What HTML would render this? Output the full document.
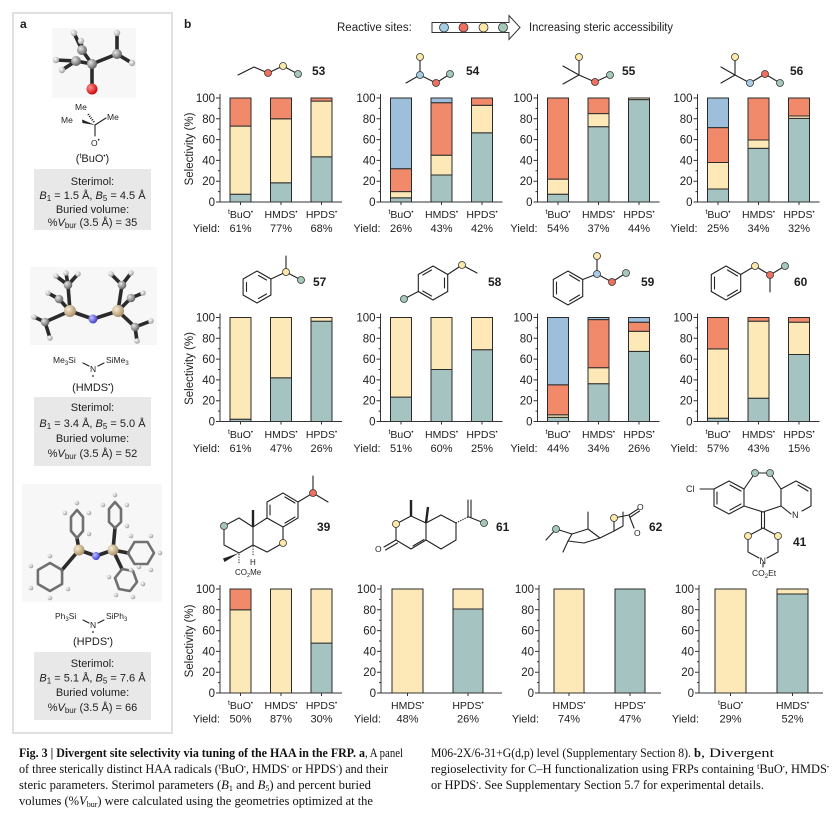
<!DOCTYPE html>
<html><head><meta charset="utf-8">
<style>
html,body{margin:0;padding:0;background:#fff;}
svg{display:block;}
text{font-family:"Liberation Sans",Arial,sans-serif;fill:#1e1e1e;}
.tk{font-size:11.5px;text-anchor:end}
.c{font-size:10.5px;text-anchor:middle}
.yv{font-size:11px;text-anchor:middle}
.yl{font-size:11px;text-anchor:end}
.num{font-size:12px;font-weight:bold}
.sel{font-size:11.5px;text-anchor:middle}
.st{font-size:11px;text-anchor:middle}
.ch{font-size:8.5px}
.cap{font-family:"Liberation Serif",serif;font-size:12.5px;fill:#111}
.capb{font-family:"Liberation Serif",serif;font-size:12.5px;font-weight:bold;fill:#111}
rect.t{fill:#a5c3c1;stroke:#2b2b2b;stroke-width:1}
rect.y{fill:#fde9b7;stroke:#2b2b2b;stroke-width:1}
rect.r{fill:#f08a6b;stroke:#2b2b2b;stroke-width:1}
rect.b{fill:#9ebfdc;stroke:#2b2b2b;stroke-width:1}
.ax{stroke:#333;stroke-width:1;fill:none}
.mol{stroke:#222;stroke-width:1.1;fill:none;stroke-linecap:round}
circle.ct{fill:#a5c9b8;stroke:#333;stroke-width:.8}
circle.cy{fill:#fde9a8;stroke:#333;stroke-width:.8}
circle.cr{fill:#f07060;stroke:#333;stroke-width:.8}
circle.cb{fill:#a6cde6;stroke:#333;stroke-width:.8}
.stk{stroke:#2b2b2b;stroke-width:3.6;stroke-linecap:round;fill:none}
.ring{stroke:#707070;stroke-width:2.6;stroke-linejoin:round;fill:none}
</style></head><body>
<svg width="836" height="814" viewBox="0 0 836 814" xmlns="http://www.w3.org/2000/svg">
<defs>
<radialGradient id="gH" cx="35%" cy="35%" r="70%"><stop offset="0" stop-color="#ffffff"/><stop offset="1" stop-color="#9a9a9a"/></radialGradient>
<radialGradient id="gC" cx="35%" cy="35%" r="70%"><stop offset="0" stop-color="#e6e6e6"/><stop offset="1" stop-color="#5a5a5a"/></radialGradient>
<radialGradient id="gO" cx="35%" cy="35%" r="70%"><stop offset="0" stop-color="#ff9090"/><stop offset="1" stop-color="#c80000"/></radialGradient>
<radialGradient id="gN" cx="35%" cy="35%" r="70%"><stop offset="0" stop-color="#c0c0ff"/><stop offset="1" stop-color="#3838c8"/></radialGradient>
<radialGradient id="gS" cx="35%" cy="35%" r="70%"><stop offset="0" stop-color="#f8ecd2"/><stop offset="1" stop-color="#a58d62"/></radialGradient>
<g id="ax"><path class="ax" d="M0,-108V0 M-4,0H0 M-4,-20.8H0 M-4,-41.6H0 M-4,-62.4H0 M-4,-83.2H0 M-4,-104H0 M-2,-10.4H0 M-2,-31.2H0 M-2,-52H0 M-2,-72.8H0 M-2,-93.6H0"/></g>
</defs>

<!-- Panel a -->
<rect x="13" y="13" width="159" height="720" fill="none" stroke="#d9d9d9" stroke-width="1.6"/>
<text x="20" y="28" style="font-size:12px;font-weight:bold">a</text>
<text x="184" y="28" style="font-size:12px;font-weight:bold">b</text>

<!-- tBuO 3D -->
<rect x="52" y="28" width="84" height="70" fill="#f7f7f7"/>
<path class="stk" d="M92,64L92,88 M92,64L76,61 M92,64L117,54 M92,64L82,50 M76,61L56,60 M76,61L62,70 M82,50L74,33 M82,50L81,41 M117,54L117,33 M117,54L132,63"/>
<circle cx="56" cy="60" r="3.2" fill="url(#gH)"/><circle cx="62" cy="70" r="3.2" fill="url(#gH)"/>
<circle cx="74" cy="33" r="3.2" fill="url(#gH)"/><circle cx="81" cy="41" r="3.2" fill="url(#gH)"/>
<circle cx="117" cy="33" r="3.2" fill="url(#gH)"/><circle cx="132" cy="63" r="3.2" fill="url(#gH)"/>
<circle cx="82" cy="50" r="5" fill="url(#gC)"/><circle cx="76" cy="61" r="5" fill="url(#gC)"/>
<circle cx="117" cy="54" r="5" fill="url(#gC)"/><circle cx="92" cy="64" r="5" fill="url(#gC)"/>
<circle cx="92" cy="89" r="5.5" fill="url(#gO)"/>
<!-- tBuO 2D -->
<path class="mol" d="M95,125L106,118 M95,125L95,136"/>
<polygon points="95,125 82,119.5 82.5,123" fill="#222"/>
<path d="M94,122L88,114" stroke="#222" stroke-width="2" stroke-dasharray="1,1.2"/>
<text class="ch" x="75" y="110">Me</text>
<text class="ch" x="61" y="123">Me</text>
<text class="ch" x="107" y="120">Me</text>
<text class="ch" x="91" y="146">O<tspan font-size="6" dy="-4">•</tspan></text>
<text class="st" x="92.5" y="162">(<tspan font-size="7" dy="-4">t</tspan><tspan dy="4">BuO</tspan><tspan font-size="6" dy="-4">•</tspan><tspan dy="4">)</tspan></text>
<rect x="34" y="169" width="117" height="61" fill="#e8e8e8"/>
<text class="st" x="92.5" y="185">Sterimol:</text>
<text class="st" x="92.5" y="199"><tspan font-style="italic">B</tspan><tspan font-size="8" dy="2">1</tspan><tspan dy="-2"> = 1.5 Å, </tspan><tspan font-style="italic">B</tspan><tspan font-size="8" dy="2">5</tspan><tspan dy="-2"> = 4.5 Å</tspan></text>
<text class="st" x="92.5" y="213">Buried volume:</text>
<text class="st" x="92.5" y="226">%<tspan font-style="italic">V</tspan><tspan font-size="8" dy="2">bur</tspan><tspan dy="-2"> (3.5 Å) = 35</tspan></text>

<!-- HMDS 3D -->
<rect x="30" y="267" width="127" height="78" fill="#f7f7f7"/>
<path class="stk" d="M93,319L70,311 M93,319L118,311 M70,311L68,285 M70,311L59,299 M70,311L45,322 M118,311L122,285 M118,311L131,298 M118,311L135,327 M68,285L78,274 M68,285L56,276 M68,285L66,273 M59,299L48,293 M45,322L34,317 M45,322L50,338 M122,285L111,274 M122,285L131,273 M131,298L143,293 M135,327L151,321 M135,327L137,341"/>
<circle cx="78" cy="274" r="2.8" fill="url(#gH)"/><circle cx="56" cy="276" r="2.8" fill="url(#gH)"/><circle cx="66" cy="273" r="2.8" fill="url(#gH)"/>
<circle cx="48" cy="293" r="2.8" fill="url(#gH)"/><circle cx="34" cy="317" r="2.8" fill="url(#gH)"/><circle cx="50" cy="338" r="2.8" fill="url(#gH)"/>
<circle cx="111" cy="274" r="2.8" fill="url(#gH)"/><circle cx="131" cy="273" r="2.8" fill="url(#gH)"/><circle cx="143" cy="293" r="2.8" fill="url(#gH)"/>
<circle cx="151" cy="321" r="2.8" fill="url(#gH)"/><circle cx="137" cy="341" r="2.8" fill="url(#gH)"/>
<circle cx="68" cy="285" r="4.3" fill="url(#gC)"/><circle cx="59" cy="299" r="4.3" fill="url(#gC)"/><circle cx="45" cy="322" r="4.3" fill="url(#gC)"/>
<circle cx="122" cy="285" r="4.3" fill="url(#gC)"/><circle cx="131" cy="298" r="4.3" fill="url(#gC)"/><circle cx="135" cy="327" r="4.3" fill="url(#gC)"/>
<circle cx="70" cy="311" r="6" fill="url(#gS)"/><circle cx="118" cy="311" r="6" fill="url(#gS)"/>
<circle cx="93" cy="319" r="4.5" fill="url(#gN)"/>
<!-- HMDS 2D -->
<text class="ch" x="53" y="363">Me<tspan font-size="6" dy="2">3</tspan><tspan dy="-2">Si</tspan></text>
<text class="ch" x="106" y="363">SiMe<tspan font-size="6" dy="2">3</tspan></text>
<path class="mol" d="M83,363L89,366 M98,366L104,363" stroke-width=".9"/>
<text class="ch" x="90" y="372">N</text>
<circle cx="93" cy="376" r="0.9" fill="#222"/>
<text class="st" x="93" y="391">(HMDS<tspan font-size="6" dy="-4">•</tspan><tspan dy="4">)</tspan></text>
<rect x="34" y="397" width="117" height="69" fill="#e8e8e8"/>
<text class="st" x="92.5" y="411">Sterimol:</text>
<text class="st" x="92.5" y="427"><tspan font-style="italic">B</tspan><tspan font-size="8" dy="2">1</tspan><tspan dy="-2"> = 3.4 Å, </tspan><tspan font-style="italic">B</tspan><tspan font-size="8" dy="2">5</tspan><tspan dy="-2"> = 5.0 Å</tspan></text>
<text class="st" x="92.5" y="442">Buried volume:</text>
<text class="st" x="92.5" y="457">%<tspan font-style="italic">V</tspan><tspan font-size="8" dy="2">bur</tspan><tspan dy="-2"> (3.5 Å) = 52</tspan></text>

<!-- HPDS 3D -->
<rect x="22" y="484" width="140" height="118" fill="#f7f7f7"/>
<path class="stk" d="M96,556L79,550 M96,556L113,550 M79,550L77,538 M79,550L62,570 M113,550L115,528 M113,550L128,553 M113,550L122,569"/>
<polygon class="ring" points="77,510 83,517 83,531 77,538 71,531 71,517"/>
<polygon class="ring" points="50,563 62.1,570 62.1,584 50,591 37.9,584 37.9,570"/>
<polygon class="ring" points="115,502 121,509 121,522 115,528 109,522 109,509"/>
<polygon class="ring" points="128,553 134.5,542 147.5,542 154,553 147.5,564 134.5,564"/>
<polygon class="ring" points="122,569 133,571 137,582 130,591 119,589 115,578"/>
<g fill="url(#gH)">
<circle cx="77" cy="503" r="2.3"/><circle cx="89" cy="513" r="2.3"/><circle cx="65" cy="513" r="2.3"/><circle cx="89" cy="534" r="2.3"/>
<circle cx="31" cy="566" r="2.3"/><circle cx="31" cy="588" r="2.3"/><circle cx="50" cy="598" r="2.3"/><circle cx="68" cy="589" r="2.3"/><circle cx="50" cy="556" r="2.3"/>
<circle cx="115" cy="495" r="2.3"/><circle cx="127" cy="505" r="2.3"/><circle cx="103" cy="505" r="2.3"/><circle cx="127" cy="526" r="2.3"/>
<circle cx="131" cy="536" r="2.3"/><circle cx="151" cy="536" r="2.3"/><circle cx="160" cy="553" r="2.3"/><circle cx="151" cy="570" r="2.3"/><circle cx="131" cy="570" r="2.3"/>
<circle cx="139" cy="567" r="2.3"/><circle cx="143" cy="584" r="2.3"/><circle cx="133" cy="597" r="2.3"/><circle cx="116" cy="595" r="2.3"/><circle cx="109" cy="577" r="2.3"/>
</g>
<circle cx="79" cy="550" r="5.5" fill="url(#gS)"/><circle cx="113" cy="550" r="5.5" fill="url(#gS)"/>
<circle cx="96" cy="556" r="4" fill="url(#gN)"/>
<!-- HPDS 2D -->
<text class="ch" x="55" y="619">Ph<tspan font-size="6" dy="2">3</tspan><tspan dy="-2">Si</tspan></text>
<text class="ch" x="106" y="619">SiPh<tspan font-size="6" dy="2">3</tspan></text>
<path class="mol" d="M83,620L89,623 M98,623L104,620" stroke-width=".9"/>
<text class="ch" x="90" y="628">N</text>
<circle cx="93" cy="632" r="0.9" fill="#222"/>
<text class="st" x="93" y="645">(HPDS<tspan font-size="6" dy="-4">•</tspan><tspan dy="4">)</tspan></text>
<rect x="34" y="652" width="117" height="68" fill="#e8e8e8"/>
<text class="st" x="92.5" y="667">Sterimol:</text>
<text class="st" x="92.5" y="681.5"><tspan font-style="italic">B</tspan><tspan font-size="8" dy="2">1</tspan><tspan dy="-2"> = 5.1 Å, </tspan><tspan font-style="italic">B</tspan><tspan font-size="8" dy="2">5</tspan><tspan dy="-2"> = 7.6 Å</tspan></text>
<text class="st" x="92.5" y="696">Buried volume:</text>
<text class="st" x="92.5" y="711">%<tspan font-style="italic">V</tspan><tspan font-size="8" dy="2">bur</tspan><tspan dy="-2"> (3.5 Å) = 66</tspan></text>

<!-- Header legend -->
<text x="337" y="31" style="font-size:11.5px">Reactive sites:</text>
<path d="M432,22.5H509V15.5L520,27.5L509,39.5V32.5H432Z" fill="#fff" stroke="#333" stroke-width="1"/>
<circle class="cb" cx="444" cy="27.5" r="4.5"/><circle class="cr" cx="463.5" cy="27.5" r="4.5"/>
<circle class="cy" cx="483.5" cy="27.5" r="4.5"/><circle class="ct" cx="503" cy="27.5" r="4.5"/>
<text x="529" y="31" style="font-size:11.5px" textLength="144" lengthAdjust="spacingAndGlyphs">Increasing steric accessibility</text>

<!-- Row 1 molecules -->
<polyline class="mol" points="238,75 254,67 268,73 283,66 298,74"/>
<circle class="cr" cx="268" cy="73" r="3.5"/><circle class="cy" cx="283" cy="66" r="3.5"/><circle class="ct" cx="298" cy="74" r="3.5"/>
<text class="num" x="312" y="75">53</text>
<path class="mol" d="M420,57L420,75 M406,83L420,75 M420,75L436,83 M436,83L450,74"/>
<circle class="cy" cx="420" cy="57" r="3.5"/><circle class="cb" cx="420" cy="75" r="3.5"/><circle class="cr" cx="436" cy="83" r="3.5"/><circle class="ct" cx="450" cy="74" r="3.5"/>
<text class="num" x="466" y="75">54</text>
<path class="mol" d="M579,57L579,75 M563,66L579,75 M563,84L579,75 M579,75L595,82 M595,82L610,75"/>
<circle class="cy" cx="579" cy="57" r="3.5"/><circle class="cr" cx="595" cy="82" r="3.5"/><circle class="ct" cx="610" cy="75" r="3.5"/>
<text class="num" x="622" y="75">55</text>
<path class="mol" d="M735,57L735,75 M721,67L735,75 M721,83L735,75 M735,75L750,83 M750,83L765,74 M765,74L780,83"/>
<circle class="cy" cx="735" cy="57" r="3.5"/><circle class="cb" cx="750" cy="83" r="3.5"/><circle class="cr" cx="765" cy="74" r="3.5"/><circle class="ct" cx="780" cy="83" r="3.5"/>
<text class="num" x="790" y="75">56</text>

<!-- Row 2 molecules -->
<polygon class="mol" points="257,271 270.9,279 270.9,295 257,303 243.1,295 243.1,279"/>
<path class="mol" d="M258.5,275.5L266.5,280 M266.5,294L258.5,298.5 M246.5,291.5L246.5,282.5 M270.9,279L286,272 M286,272L286,256 M286,272L301,280"/>
<circle class="cy" cx="286" cy="272" r="3.5"/><circle class="ct" cx="301" cy="280" r="3.5"/>
<text class="num" x="313" y="286">57</text>
<polygon class="mol" points="433,266 447.7,274.5 447.7,291.5 433,300 418.3,291.5 418.3,274.5"/>
<path class="mol" d="M444.5,278L444.5,288 M431.5,296L422.8,291 M422.8,275L431.5,270 M418.3,291.5L404,299 M447.7,274.5L462,265 M462,265L477,273"/>
<circle class="ct" cx="404" cy="299" r="3.5"/><circle class="cy" cx="462" cy="265" r="3.5"/>
<text class="num" x="488" y="286">58</text>
<polygon class="mol" points="568,271 582.7,279.5 582.7,296.5 568,305 553.3,296.5 553.3,279.5"/>
<path class="mol" d="M556.5,282L556.5,294 M569.5,275L579.5,281 M579.5,295L569.5,301 M582.7,279.5L597,274 M597,274L597,256 M597,274L612,282 M612,282L626,273"/>
<circle class="cy" cx="597" cy="256" r="3.5"/><circle class="cb" cx="597" cy="274" r="3.5"/><circle class="cr" cx="612" cy="282" r="3.5"/><circle class="ct" cx="626" cy="273" r="3.5"/>
<text class="num" x="641" y="286">59</text>
<polygon class="mol" points="726,266 740.7,274.5 740.7,291.5 726,300 711.3,291.5 711.3,274.5"/>
<path class="mol" d="M714.5,277L714.5,289 M727.5,270L737.5,276 M737.5,290L727.5,296 M740.7,274.5L755,266 M755,266L770,275 M770,275L770,292 M770,275L785,266"/>
<circle class="cy" cx="755" cy="266" r="3.5"/><circle class="cr" cx="770" cy="275" r="3.5"/><circle class="ct" cx="785" cy="266" r="3.5"/>
<text class="num" x="794" y="286">60</text>

<!-- Row 3 molecules -->
<!-- 39 -->
<polygon class="mol" points="267,502 283,493 298,502 298,518 283,527 267,518"/>
<path class="mol" d="M270,505L270,515 M285,497L295,503 M295,517L285,523 M298,502L313,493 M313,493L313,476 M313,493L328,502 M267,518L253,527 M253,527L253,545 M253,545L267,552 M267,552L283,543 M283,543L283,527 M253,527L239,518 M239,518L224,526 M224,526L224,545 M224,545L239,553 M239,553L253,545"/>
<path d="M253,527L253,510" stroke="#222" stroke-width="2.4"/>
<path d="M253,546L253,556 M239,554L239,564" stroke="#222" stroke-width="1" stroke-dasharray="1.3,1.3"/>
<polygon points="239,553 223,558.5 224.5,562" fill="#222"/>
<text class="ch" x="250" y="565" style="font-size:8px">H</text>
<text class="ch" x="235" y="575" style="font-size:8px">CO<tspan font-size="5.5" dy="2">2</tspan><tspan dy="-2">Me</tspan></text>
<circle class="ct" cx="224" cy="526" r="3.5"/><circle class="cy" cx="283" cy="543" r="3.5"/><circle class="cr" cx="313" cy="493" r="3.5"/>
<text class="num" x="317" y="531">39</text>
<!-- 61 -->
<path class="mol" d="M396,524L411,516 M411,516L426,523 M426,523L426,540 M426,540L411,549 M411,549L396,540 M396,540L396,524 M413,546L424,539.5 M396,540L384,547 M397.5,543L385.5,550 M426,523L441,515 M441,515L456,523 M456,523L456,540 M456,540L441,549 M441,549L426,540 M468,517L468,500 M471,517L471,500 M469,517L484,523"/>
<path d="M411,516L411,500 M426,523L428,507" stroke="#222" stroke-width="2.4"/>
<path d="M456,523L468,517" stroke="#222" stroke-width="1.2" stroke-dasharray="1.2,1.2"/>
<text class="ch" x="375" y="552">O</text>
<circle class="cy" cx="396" cy="524" r="3.5"/><circle class="ct" cx="484" cy="523" r="3.5"/>
<text class="num" x="496" y="531">61</text>
<!-- 62 -->
<path class="mol" d="M546,540L556,529 M556,529L572,534 M572,534L588,529 M588,529L600,538 M600,538L614,531 M614,531L623,526 M563,552L568,541 M568,541L584,543 M584,543L600,538 M572,534L568,541 M588,529L588,512 M614,531L614,518 M614,518L629,515 M629,515L638,509 M630.5,517L639.5,511 M623,526L623,512 M629,515L634,528"/>
<text class="ch" x="637" y="510">O</text>
<text class="ch" x="634" y="536">O</text>
<circle class="ct" cx="556" cy="529" r="3.5"/><circle class="cy" cx="614" cy="518" r="3.5"/>
<text class="num" x="649" y="531">62</text>
<!-- 41 -->
<text class="ch" x="686" y="492" style="font-size:9px">Cl</text>
<polygon class="mol" points="729,481 744,489 744,506 729,514 714,506 714,489"/>
<path class="mol" d="M700,489L714,489 M717,492L717,504 M730,485L741,491 M741,504L730,510 M744,489L755,473 M755,473L770,473 M770,473L781,489 M744,506L763,512 M763,512L781,506 M781,489L796,481 M796,481L811,489 M811,489L811,506 M811,506L802,511 M791,514L781,506 M781,506L781,489 M798,485L808,491 M761.5,512L761.5,528 M764.5,512L764.5,528 M763,528L748,536 M763,528L778,536 M748,536L748,552 M778,536L778,552 M748,552L759,558 M778,552L767,558 M763,563L763,567"/>
<text class="ch" x="792" y="518" style="font-size:9px">N</text>
<text class="ch" x="759.5" y="564" style="font-size:9px">N</text>
<text class="ch" x="752" y="576" style="font-size:8.5px">CO<tspan font-size="6" dy="2">2</tspan><tspan dy="-2">Et</tspan></text>
<circle class="ct" cx="755" cy="473" r="3.5"/><circle class="ct" cx="770" cy="473" r="3.5"/>
<circle class="cy" cx="748" cy="536" r="3.5"/><circle class="cy" cx="778" cy="536" r="3.5"/>
<text class="num" x="793" y="546">41</text>

<!-- ============ ROW 1 ============ -->
<g transform="translate(220,202)">
<rect class="t" x="10" y="-7.8" width="21" height="7.8"/><rect class="y" x="10" y="-75.9" width="21" height="68.1"/><rect class="r" x="10" y="-104" width="21" height="28.1"/>
<rect class="t" x="50.5" y="-19.2" width="21" height="19.2"/><rect class="y" x="50.5" y="-83.2" width="21" height="64"/><rect class="r" x="50.5" y="-104" width="21" height="20.8"/>
<rect class="t" x="91" y="-45.2" width="21" height="45.2"/><rect class="y" x="91" y="-100.9" width="21" height="55.7"/><rect class="r" x="91" y="-104" width="21" height="3.1"/>
<use href="#ax"/><path class="ax" d="M0,0H122 M20.5,0v3 M61,0v3 M101.5,0v3"/>
<text class="tk" x="-5" y="4">0</text><text class="tk" x="-5" y="-16.8">20</text><text class="tk" x="-5" y="-37.6">40</text><text class="tk" x="-5" y="-58.4">60</text><text class="tk" x="-5" y="-79.2">80</text><text class="tk" x="-5" y="-100">100</text>
<text class="sel" transform="translate(-27,-53) rotate(-90)">Selectivity (%)</text>
<text class="c" x="20.5" y="16"><tspan font-size="7" dy="-4">t</tspan><tspan dy="4">BuO</tspan><tspan font-size="6" dy="-4">•</tspan></text>
<text class="c" x="61" y="16">HMDS<tspan font-size="6" dy="-4">•</tspan></text>
<text class="c" x="101.5" y="16">HPDS<tspan font-size="6" dy="-4">•</tspan></text>
<text class="yl" x="0" y="30">Yield:</text><text class="yv" x="20.5" y="30">61%</text><text class="yv" x="61" y="30">77%</text><text class="yv" x="101.5" y="30">68%</text>
</g>
<g transform="translate(380.5,202)">
<rect class="t" x="10" y="-4.2" width="21" height="4.2"/><rect class="y" x="10" y="-10.4" width="21" height="6.2"/><rect class="r" x="10" y="-33.3" width="21" height="22.9"/><rect class="b" x="10" y="-104" width="21" height="70.7"/>
<rect class="t" x="50.5" y="-27" width="21" height="27"/><rect class="y" x="50.5" y="-46.8" width="21" height="19.8"/><rect class="r" x="50.5" y="-99.3" width="21" height="52.5"/><rect class="b" x="50.5" y="-104" width="21" height="4.7"/>
<rect class="t" x="91" y="-69.2" width="21" height="69.2"/><rect class="y" x="91" y="-96.7" width="21" height="27.5"/><rect class="r" x="91" y="-104" width="21" height="7.3"/>
<use href="#ax"/><path class="ax" d="M0,0H122 M20.5,0v3 M61,0v3 M101.5,0v3"/>
<text class="tk" x="-5" y="4">0</text><text class="tk" x="-5" y="-16.8">20</text><text class="tk" x="-5" y="-37.6">40</text><text class="tk" x="-5" y="-58.4">60</text><text class="tk" x="-5" y="-79.2">80</text><text class="tk" x="-5" y="-100">100</text>
<text class="c" x="20.5" y="16"><tspan font-size="7" dy="-4">t</tspan><tspan dy="4">BuO</tspan><tspan font-size="6" dy="-4">•</tspan></text>
<text class="c" x="61" y="16">HMDS<tspan font-size="6" dy="-4">•</tspan></text>
<text class="c" x="101.5" y="16">HPDS<tspan font-size="6" dy="-4">•</tspan></text>
<text class="yl" x="0" y="30">Yield:</text><text class="yv" x="20.5" y="30">26%</text><text class="yv" x="61" y="30">43%</text><text class="yv" x="101.5" y="30">42%</text>
</g>
<g transform="translate(537.5,202)">
<rect class="t" x="10" y="-7.8" width="21" height="7.8"/><rect class="y" x="10" y="-22.9" width="21" height="15.1"/><rect class="r" x="10" y="-104" width="21" height="81.1"/>
<rect class="t" x="50.5" y="-75.3" width="21" height="75.3"/><rect class="y" x="50.5" y="-88.4" width="21" height="13.1"/><rect class="r" x="50.5" y="-104" width="21" height="15.6"/>
<rect class="t" x="91" y="-102.4" width="21" height="102.4"/><rect class="y" x="91" y="-104" width="21" height="1.6"/>
<use href="#ax"/><path class="ax" d="M0,0H122 M20.5,0v3 M61,0v3 M101.5,0v3"/>
<text class="tk" x="-5" y="4">0</text><text class="tk" x="-5" y="-16.8">20</text><text class="tk" x="-5" y="-37.6">40</text><text class="tk" x="-5" y="-58.4">60</text><text class="tk" x="-5" y="-79.2">80</text><text class="tk" x="-5" y="-100">100</text>
<text class="c" x="20.5" y="16"><tspan font-size="7" dy="-4">t</tspan><tspan dy="4">BuO</tspan><tspan font-size="6" dy="-4">•</tspan></text>
<text class="c" x="61" y="16">HMDS<tspan font-size="6" dy="-4">•</tspan></text>
<text class="c" x="101.5" y="16">HPDS<tspan font-size="6" dy="-4">•</tspan></text>
<text class="yl" x="0" y="30">Yield:</text><text class="yv" x="20.5" y="30">54%</text><text class="yv" x="61" y="30">37%</text><text class="yv" x="101.5" y="30">44%</text>
</g>
<g transform="translate(697.5,202)">
<rect class="t" x="10" y="-13" width="21" height="13"/><rect class="y" x="10" y="-39.5" width="21" height="26.5"/><rect class="r" x="10" y="-74.4" width="21" height="34.9"/><rect class="b" x="10" y="-104" width="21" height="29.6"/>
<rect class="t" x="50.5" y="-53.7" width="21" height="53.7"/><rect class="y" x="50.5" y="-62" width="21" height="8.3"/><rect class="r" x="50.5" y="-104" width="21" height="42"/>
<rect class="t" x="91" y="-83.6" width="21" height="83.6"/><rect class="y" x="91" y="-86" width="21" height="2.4"/><rect class="r" x="91" y="-104" width="21" height="18"/>
<use href="#ax"/><path class="ax" d="M0,0H122 M20.5,0v3 M61,0v3 M101.5,0v3"/>
<text class="tk" x="-5" y="4">0</text><text class="tk" x="-5" y="-16.8">20</text><text class="tk" x="-5" y="-37.6">40</text><text class="tk" x="-5" y="-58.4">60</text><text class="tk" x="-5" y="-79.2">80</text><text class="tk" x="-5" y="-100">100</text>
<text class="c" x="20.5" y="16"><tspan font-size="7" dy="-4">t</tspan><tspan dy="4">BuO</tspan><tspan font-size="6" dy="-4">•</tspan></text>
<text class="c" x="61" y="16">HMDS<tspan font-size="6" dy="-4">•</tspan></text>
<text class="c" x="101.5" y="16">HPDS<tspan font-size="6" dy="-4">•</tspan></text>
<text class="yl" x="0" y="30">Yield:</text><text class="yv" x="20.5" y="30">25%</text><text class="yv" x="61" y="30">34%</text><text class="yv" x="101.5" y="30">32%</text>
</g>

<!-- ============ ROW 2 ============ -->
<g transform="translate(220,421.5)">
<rect class="t" x="10" y="-2.3" width="21" height="2.3"/><rect class="y" x="10" y="-104" width="21" height="101.7"/>
<rect class="t" x="50.5" y="-43.7" width="21" height="43.7"/><rect class="y" x="50.5" y="-104" width="21" height="60.3"/>
<rect class="t" x="91" y="-100.3" width="21" height="100.3"/><rect class="y" x="91" y="-104" width="21" height="3.7"/>
<use href="#ax"/><path class="ax" d="M0,0H122 M20.5,0v3 M61,0v3 M101.5,0v3"/>
<text class="tk" x="-5" y="4">0</text><text class="tk" x="-5" y="-16.8">20</text><text class="tk" x="-5" y="-37.6">40</text><text class="tk" x="-5" y="-58.4">60</text><text class="tk" x="-5" y="-79.2">80</text><text class="tk" x="-5" y="-100">100</text>
<text class="sel" transform="translate(-27,-53) rotate(-90)">Selectivity (%)</text>
<text class="c" x="20.5" y="16.5"><tspan font-size="7" dy="-4">t</tspan><tspan dy="4">BuO</tspan><tspan font-size="6" dy="-4">•</tspan></text>
<text class="c" x="61" y="16.5">HMDS<tspan font-size="6" dy="-4">•</tspan></text>
<text class="c" x="101.5" y="16.5">HPDS<tspan font-size="6" dy="-4">•</tspan></text>
<text class="yl" x="0" y="30.5">Yield:</text><text class="yv" x="20.5" y="30.5">61%</text><text class="yv" x="61" y="30.5">47%</text><text class="yv" x="101.5" y="30.5">26%</text>
</g>
<g transform="translate(380.5,421.5)">
<rect class="t" x="10" y="-24.4" width="21" height="24.4"/><rect class="y" x="10" y="-104" width="21" height="79.6"/>
<rect class="t" x="50.5" y="-52" width="21" height="52"/><rect class="y" x="50.5" y="-104" width="21" height="52"/>
<rect class="t" x="91" y="-71.8" width="21" height="71.8"/><rect class="y" x="91" y="-104" width="21" height="32.2"/>
<use href="#ax"/><path class="ax" d="M0,0H122 M20.5,0v3 M61,0v3 M101.5,0v3"/>
<text class="tk" x="-5" y="4">0</text><text class="tk" x="-5" y="-16.8">20</text><text class="tk" x="-5" y="-37.6">40</text><text class="tk" x="-5" y="-58.4">60</text><text class="tk" x="-5" y="-79.2">80</text><text class="tk" x="-5" y="-100">100</text>
<text class="c" x="20.5" y="16.5"><tspan font-size="7" dy="-4">t</tspan><tspan dy="4">BuO</tspan><tspan font-size="6" dy="-4">•</tspan></text>
<text class="c" x="61" y="16.5">HMDS<tspan font-size="6" dy="-4">•</tspan></text>
<text class="c" x="101.5" y="16.5">HPDS<tspan font-size="6" dy="-4">•</tspan></text>
<text class="yl" x="0" y="30.5">Yield:</text><text class="yv" x="20.5" y="30.5">51%</text><text class="yv" x="61" y="30.5">60%</text><text class="yv" x="101.5" y="30.5">25%</text>
</g>
<g transform="translate(537.5,421.5)">
<rect class="t" x="10" y="-4.2" width="21" height="4.2"/><rect class="y" x="10" y="-6.7" width="21" height="2.5"/><rect class="r" x="10" y="-36.7" width="21" height="30"/><rect class="b" x="10" y="-104" width="21" height="67.3"/>
<rect class="t" x="50.5" y="-37.8" width="21" height="37.8"/><rect class="y" x="50.5" y="-53.8" width="21" height="16"/><rect class="r" x="50.5" y="-101.9" width="21" height="48.1"/><rect class="b" x="50.5" y="-104" width="21" height="2.1"/>
<rect class="t" x="91" y="-70.1" width="21" height="70.1"/><rect class="y" x="91" y="-90.2" width="21" height="20.1"/><rect class="r" x="91" y="-99.3" width="21" height="9.1"/><rect class="b" x="91" y="-104" width="21" height="4.7"/>
<use href="#ax"/><path class="ax" d="M0,0H122 M20.5,0v3 M61,0v3 M101.5,0v3"/>
<text class="tk" x="-5" y="4">0</text><text class="tk" x="-5" y="-16.8">20</text><text class="tk" x="-5" y="-37.6">40</text><text class="tk" x="-5" y="-58.4">60</text><text class="tk" x="-5" y="-79.2">80</text><text class="tk" x="-5" y="-100">100</text>
<text class="c" x="20.5" y="16.5"><tspan font-size="7" dy="-4">t</tspan><tspan dy="4">BuO</tspan><tspan font-size="6" dy="-4">•</tspan></text>
<text class="c" x="61" y="16.5">HMDS<tspan font-size="6" dy="-4">•</tspan></text>
<text class="c" x="101.5" y="16.5">HPDS<tspan font-size="6" dy="-4">•</tspan></text>
<text class="yl" x="0" y="30.5">Yield:</text><text class="yv" x="20.5" y="30.5">44%</text><text class="yv" x="61" y="30.5">34%</text><text class="yv" x="101.5" y="30.5">26%</text>
</g>
<g transform="translate(697.5,421.5)">
<rect class="t" x="10" y="-3.3" width="21" height="3.3"/><rect class="y" x="10" y="-72.6" width="21" height="69.3"/><rect class="r" x="10" y="-104" width="21" height="31.4"/>
<rect class="t" x="50.5" y="-23.3" width="21" height="23.3"/><rect class="y" x="50.5" y="-100.3" width="21" height="77"/><rect class="r" x="50.5" y="-104" width="21" height="3.7"/>
<rect class="t" x="91" y="-67" width="21" height="67"/><rect class="y" x="91" y="-99.3" width="21" height="32.3"/><rect class="r" x="91" y="-104" width="21" height="4.7"/>
<use href="#ax"/><path class="ax" d="M0,0H122 M20.5,0v3 M61,0v3 M101.5,0v3"/>
<text class="tk" x="-5" y="4">0</text><text class="tk" x="-5" y="-16.8">20</text><text class="tk" x="-5" y="-37.6">40</text><text class="tk" x="-5" y="-58.4">60</text><text class="tk" x="-5" y="-79.2">80</text><text class="tk" x="-5" y="-100">100</text>
<text class="c" x="20.5" y="16.5"><tspan font-size="7" dy="-4">t</tspan><tspan dy="4">BuO</tspan><tspan font-size="6" dy="-4">•</tspan></text>
<text class="c" x="61" y="16.5">HMDS<tspan font-size="6" dy="-4">•</tspan></text>
<text class="c" x="101.5" y="16.5">HPDS<tspan font-size="6" dy="-4">•</tspan></text>
<text class="yl" x="0" y="30.5">Yield:</text><text class="yv" x="20.5" y="30.5">57%</text><text class="yv" x="61" y="30.5">43%</text><text class="yv" x="101.5" y="30.5">15%</text>
</g>

<!-- ============ ROW 3 ============ -->
<g transform="translate(220,693)">
<rect class="y" x="10" y="-83.2" width="21" height="83.2"/><rect class="r" x="10" y="-104" width="21" height="20.8"/>
<rect class="y" x="50.5" y="-104" width="21" height="104"/>
<rect class="t" x="91" y="-49.9" width="21" height="49.9"/><rect class="y" x="91" y="-104" width="21" height="54.1"/>
<use href="#ax"/><path class="ax" d="M0,0H122 M20.5,0v3 M61,0v3 M101.5,0v3"/>
<text class="tk" x="-5" y="4">0</text><text class="tk" x="-5" y="-16.8">20</text><text class="tk" x="-5" y="-37.6">40</text><text class="tk" x="-5" y="-58.4">60</text><text class="tk" x="-5" y="-79.2">80</text><text class="tk" x="-5" y="-100">100</text>
<text class="sel" transform="translate(-27,-52) rotate(-90)">Selectivity (%)</text>
<text class="c" x="20.5" y="16"><tspan font-size="7" dy="-4">t</tspan><tspan dy="4">BuO</tspan><tspan font-size="6" dy="-4">•</tspan></text>
<text class="c" x="61" y="16">HMDS<tspan font-size="6" dy="-4">•</tspan></text>
<text class="c" x="101.5" y="16">HPDS<tspan font-size="6" dy="-4">•</tspan></text>
<text class="yl" x="0" y="29.5">Yield:</text><text class="yv" x="20.5" y="29.5">50%</text><text class="yv" x="61" y="29.5">87%</text><text class="yv" x="101.5" y="29.5">30%</text>
</g>
<g transform="translate(381,693)">
<rect class="y" x="11" y="-104" width="31" height="104"/>
<rect class="t" x="72" y="-84" width="30" height="84"/><rect class="y" x="72" y="-104" width="30" height="20"/>
<use href="#ax"/><path class="ax" d="M0,0H121 M26.5,0v3 M87,0v3"/>
<text class="tk" x="-5" y="4">0</text><text class="tk" x="-5" y="-16.8">20</text><text class="tk" x="-5" y="-37.6">40</text><text class="tk" x="-5" y="-58.4">60</text><text class="tk" x="-5" y="-79.2">80</text><text class="tk" x="-5" y="-100">100</text>
<text class="c" x="26.5" y="16">HMDS<tspan font-size="6" dy="-4">•</tspan></text>
<text class="c" x="87" y="16">HPDS<tspan font-size="6" dy="-4">•</tspan></text>
<text class="yl" x="0" y="29.5">Yield:</text><text class="yv" x="26.5" y="29.5">48%</text><text class="yv" x="87" y="29.5">26%</text>
</g>
<g transform="translate(539,693)">
<rect class="y" x="15" y="-104" width="30" height="104"/>
<rect class="t" x="76" y="-104" width="30" height="104"/>
<use href="#ax"/><path class="ax" d="M0,0H122 M30,0v3 M91,0v3"/>
<text class="tk" x="-5" y="4">0</text><text class="tk" x="-5" y="-16.8">20</text><text class="tk" x="-5" y="-37.6">40</text><text class="tk" x="-5" y="-58.4">60</text><text class="tk" x="-5" y="-79.2">80</text><text class="tk" x="-5" y="-100">100</text>
<text class="c" x="30" y="16">HMDS<tspan font-size="6" dy="-4">•</tspan></text>
<text class="c" x="91" y="16">HPDS<tspan font-size="6" dy="-4">•</tspan></text>
<text class="yl" x="0" y="29.5">Yield:</text><text class="yv" x="30" y="29.5">74%</text><text class="yv" x="91" y="29.5">47%</text>
</g>
<g transform="translate(699,693)">
<rect class="y" x="16" y="-104" width="31" height="104"/>
<rect class="t" x="78" y="-99" width="31" height="99"/><rect class="y" x="78" y="-104" width="31" height="5"/>
<use href="#ax"/><path class="ax" d="M0,0H124 M31.5,0v3 M93.5,0v3"/>
<text class="tk" x="-5" y="4">0</text><text class="tk" x="-5" y="-16.8">20</text><text class="tk" x="-5" y="-37.6">40</text><text class="tk" x="-5" y="-58.4">60</text><text class="tk" x="-5" y="-79.2">80</text><text class="tk" x="-5" y="-100">100</text>
<text class="c" x="31.5" y="16"><tspan font-size="7" dy="-4">t</tspan><tspan dy="4">BuO</tspan><tspan font-size="6" dy="-4">•</tspan></text>
<text class="c" x="93.5" y="16">HMDS<tspan font-size="6" dy="-4">•</tspan></text>
<text class="yl" x="0" y="29.5">Yield:</text><text class="yv" x="31.5" y="29.5">29%</text><text class="yv" x="93.5" y="29.5">52%</text>
</g>

<!-- Caption -->
<text class="capb" x="19" y="757" textLength="346" lengthAdjust="spacingAndGlyphs">Fig. 3 | Divergent site selectivity via tuning of the HAA in the FRP. a</text>
<text class="cap" x="365" y="757" textLength="38" lengthAdjust="spacingAndGlyphs">, A panel</text>
<text class="cap" x="19" y="773" textLength="369" lengthAdjust="spacingAndGlyphs">of three sterically distinct HAA radicals (<tspan font-size="8" dy="-4">t</tspan><tspan dy="4">BuO</tspan><tspan font-size="6" dy="-4">•</tspan><tspan dy="4">, HMDS</tspan><tspan font-size="6" dy="-4">•</tspan><tspan dy="4"> or HPDS</tspan><tspan font-size="6" dy="-4">•</tspan><tspan dy="4">) and their</tspan></text>
<text class="cap" x="19" y="789" textLength="352" lengthAdjust="spacingAndGlyphs">steric parameters. Sterimol parameters (<tspan font-style="italic">B</tspan><tspan font-size="8" dy="2">1</tspan><tspan dy="-2"> and </tspan><tspan font-style="italic">B</tspan><tspan font-size="8" dy="2">5</tspan><tspan dy="-2">) and percent buried</tspan></text>
<text class="cap" x="19" y="805" textLength="354" lengthAdjust="spacingAndGlyphs">volumes (%<tspan font-style="italic">V</tspan><tspan font-size="8" dy="2">bur</tspan><tspan dy="-2">) were calculated using the geometries optimized at the</tspan></text>
<text class="cap" x="431" y="757" textLength="260" lengthAdjust="spacingAndGlyphs">M06-2X/6-31+G(d,p) level (Supplementary Section 8).</text>
<text class="capb" x="694" y="757">b</text>
<text class="cap" x="701" y="757" textLength="73" lengthAdjust="spacingAndGlyphs">, Divergent</text>
<text class="cap" x="431" y="773" textLength="398" lengthAdjust="spacingAndGlyphs">regioselectivity for C–H functionalization using FRPs containing <tspan font-size="8" dy="-4">t</tspan><tspan dy="4">BuO</tspan><tspan font-size="6" dy="-4">•</tspan><tspan dy="4">, HMDS</tspan><tspan font-size="6" dy="-4">•</tspan></text>
<text class="cap" x="431" y="789" textLength="333" lengthAdjust="spacingAndGlyphs">or HPDS<tspan font-size="6" dy="-4">•</tspan><tspan dy="4">. See Supplementary Section 5.7 for experimental details.</tspan></text>
</svg>
</body></html>
